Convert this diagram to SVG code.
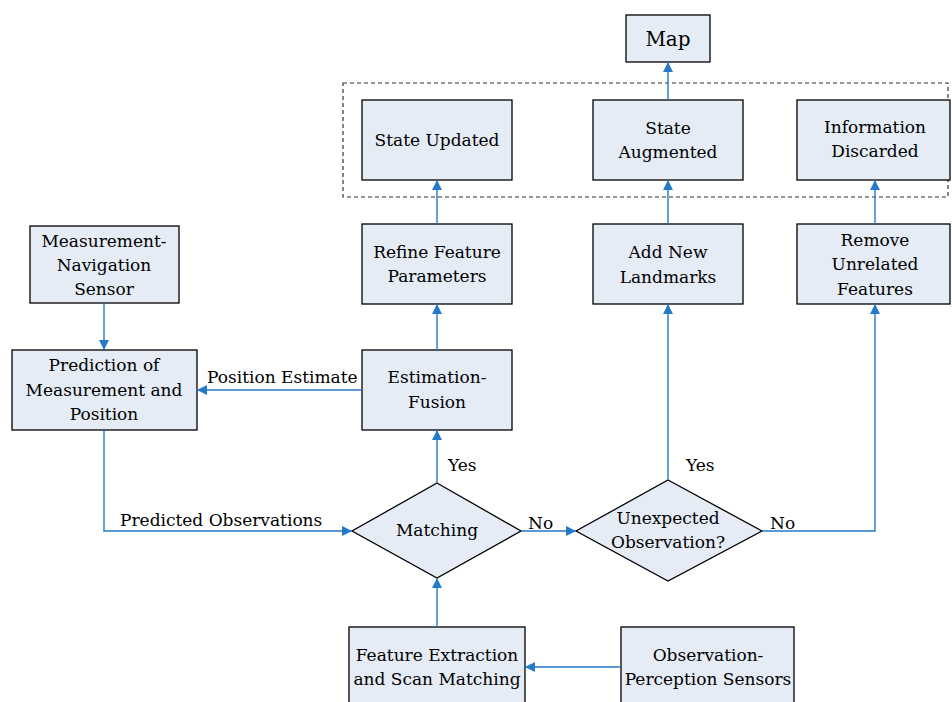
<svg xmlns="http://www.w3.org/2000/svg" width="952" height="702" viewBox="0 0 952 702">
<style>
.box{fill:#e5ecf6;stroke:#000;stroke-width:1.3}
.t{font-family:'DejaVu Serif',serif;font-size:17px;fill:#000;text-anchor:middle}
.l{font-family:'DejaVu Serif',serif;font-size:17px;fill:#000}
.c{fill:none;stroke:#2479c8;stroke-width:1.4}
</style>
<defs>
<marker id="a" viewBox="0 0 10 10" refX="10" refY="5" markerWidth="10" markerHeight="10" markerUnits="userSpaceOnUse" orient="auto">
<path d="M0,0 L10,5 L0,10 Z" fill="#2479c8"/>
</marker>
</defs>
<rect width="952" height="702" fill="#fff"/>
<rect x="343" y="83" width="605" height="114" fill="none" stroke="#333" stroke-width="1.2" stroke-dasharray="4,3"/>
<g id="map"><rect class="box" x="626" y="15" width="84" height="47"/><text class="t" x="668" y="46" style="font-size:20px">Map</text></g>
<g id="state-updated"><rect class="box" x="362" y="100" width="150" height="80"/><text class="t" x="437" y="146">State Updated</text></g>
<g id="state-augmented"><rect class="box" x="593" y="100" width="150" height="80"/><text class="t" x="668" y="134">State</text><text class="t" x="668" y="158">Augmented</text></g>
<g id="info-discarded"><rect class="box" x="797" y="100" width="153" height="80"/><text class="t" x="875" y="133">Information</text><text class="t" x="875" y="157">Discarded</text></g>
<g id="refine"><rect class="box" x="362" y="224" width="150" height="80"/><text class="t" x="437" y="258">Refine Feature</text><text class="t" x="437" y="282">Parameters</text></g>
<g id="add-new"><rect class="box" x="593" y="224" width="150" height="80"/><text class="t" x="668" y="258">Add New</text><text class="t" x="668" y="283">Landmarks</text></g>
<g id="remove"><rect class="box" x="797" y="224" width="153" height="80"/><text class="t" x="875" y="246">Remove</text><text class="t" x="875" y="270">Unrelated</text><text class="t" x="875" y="295">Features</text></g>
<g id="nav-sensor"><rect class="box" x="30" y="226" width="149" height="77"/><text class="t" x="104" y="247">Measurement-</text><text class="t" x="104" y="271">Navigation</text><text class="t" x="104" y="295">Sensor</text></g>
<g id="prediction"><rect class="box" x="12" y="350" width="185" height="80"/><text class="t" x="104" y="371">Prediction of</text><text class="t" x="104" y="396">Measurement and</text><text class="t" x="104" y="420">Position</text></g>
<g id="estimation"><rect class="box" x="362" y="350" width="150" height="80"/><text class="t" x="437" y="383">Estimation-</text><text class="t" x="437" y="408">Fusion</text></g>
<g id="matching"><polygon class="box" points="437,483 521,531 437,578 352,531"/><text class="t" x="437" y="536">Matching</text></g>
<g id="unexpected"><polygon class="box" points="668,480 762,531 668,581 576,531"/><text class="t" x="668" y="524">Unexpected</text><text class="t" x="668" y="548">Observation?</text></g>
<g id="feature-extraction"><rect class="box" x="349" y="627" width="176" height="84"/><text class="t" x="437" y="661">Feature Extraction</text><text class="t" x="437" y="685">and Scan Matching</text></g>
<g id="obs-sensors"><rect class="box" x="621" y="627" width="173" height="84"/><text class="t" x="708" y="661">Observation-</text><text class="t" x="708" y="685">Perception Sensors</text></g>
<g id="connectors">
<path class="c" d="M104,303 V350" marker-end="url(#a)"/>
<path class="c" d="M362,390 H197" marker-end="url(#a)"/>
<path class="c" d="M104,430 V531 H352" marker-end="url(#a)"/>
<path class="c" d="M437,483 V430" marker-end="url(#a)"/>
<path class="c" d="M521,531 H576" marker-end="url(#a)"/>
<path class="c" d="M668,480 V304" marker-end="url(#a)"/>
<path class="c" d="M762,531 H875 V304" marker-end="url(#a)"/>
<path class="c" d="M437,627 V578" marker-end="url(#a)"/>
<path class="c" d="M621,667 H525" marker-end="url(#a)"/>
<path class="c" d="M437,350 V304" marker-end="url(#a)"/>
<path class="c" d="M437,224 V180" marker-end="url(#a)"/>
<path class="c" d="M668,224 V180" marker-end="url(#a)"/>
<path class="c" d="M875,224 V180" marker-end="url(#a)"/>
<path class="c" d="M668,100 V62" marker-end="url(#a)"/>
<text class="l" x="207" y="383">Position Estimate</text>
<text class="l" x="120" y="526">Predicted Observations</text>
<text class="l" x="448" y="471">Yes</text>
<text class="l" x="686" y="471">Yes</text>
<text class="l" x="528" y="529">No</text>
<text class="l" x="770" y="529">No</text>
</g>
</svg>
